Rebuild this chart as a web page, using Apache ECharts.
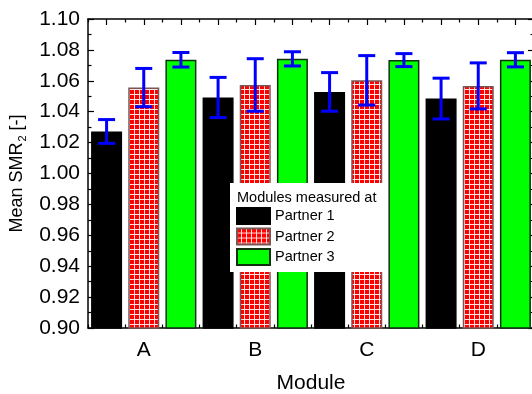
<!DOCTYPE html>
<html>
<head>
<meta charset="utf-8">
<script src="https://cdn.jsdelivr.net/npm/echarts@6/dist/echarts.min.js"></script>
<style>
  html, body { margin: 0; padding: 0; background: #fff; }
  #chart { width: 532px; height: 394px; }
</style>
</head>
<body>
<div id="chart"></div>
<script>
// Mean SMR2 per module, grouped by the partner lab that measured it
const modules = ['A', 'B', 'C', 'D'];
const partners = ['Partner 1', 'Partner 2', 'Partner 3'];
const meanP1 = [1.0272, 1.0492, 1.0528, 1.0485];
const errP1  = [0.0077, 0.0130, 0.0125, 0.0132];
const meanP2 = [1.0556, 1.0573, 1.0603, 1.0567];
const errP2  = [0.0124, 0.0170, 0.0160, 0.0149];
const meanP3 = [1.0736, 1.0742, 1.0734, 1.0736];
const errP3  = [0.0047, 0.0046, 0.0042, 0.0046];
const yMin = 0.90, yMax = 1.10, yStep = 0.02;

const means = [meanP1, meanP2, meanP3];
const errs = [errP1, errP2, errP3];
const FONT = "'Liberation Sans', Arial, Helvetica, sans-serif";

// one slot per bar: module-major, partner-minor
const slots = [];
modules.forEach(m => partners.forEach((p, j) => slots.push(m + '|' + j)));

// red fill with a fine white grid
const cv = document.createElement('canvas');
cv.width = 5; cv.height = 5;
const cx = cv.getContext('2d');
cx.fillStyle = '#ff0000'; cx.fillRect(0, 0, 5, 5);
cx.fillStyle = '#ffe2e2'; cx.fillRect(4, 0, 1, 5); cx.fillRect(0, 4, 5, 1);
const gridPattern = { image: cv, repeat: 'repeat' };

const barStyles = [
  { color: '#000000', borderColor: '#000000', borderWidth: 1.5 },
  { color: gridPattern, borderColor: '#7a5555', borderWidth: 1.5 },
  { color: '#00ff00', borderColor: '#103010', borderWidth: 1.5 }
];

const barSeries = partners.map((name, j) => ({
  name,
  type: 'bar',
  xAxisIndex: 0,
  yAxisIndex: 0,
  barWidth: 31,
  barGap: '-100%',
  itemStyle: barStyles[j],
  data: slots.map((s, i) => (i % 3 === j ? means[j][Math.floor(i / 3)] : '-'))
}));

const errData = [];
modules.forEach((m, k) => partners.forEach((p, j) => {
  errData.push([k * 3 + j, means[j][k], errs[j][k]]);
}));

const errStroke = { stroke: '#0000ff', lineWidth: 3 };
const errSeries = {
  type: 'custom',
  name: 'error',
  xAxisIndex: 0,
  yAxisIndex: 0,
  z: 5,
  encode: { x: 0, y: 1 },
  data: errData,
  renderItem: (params, api) => {
    const x = api.value(0), m = api.value(1), e = api.value(2);
    const hi = api.coord([x, m + e]);
    const lo = api.coord([x, m - e]);
    const hw = 8.5;
    return {
      type: 'group',
      children: [
        { type: 'line', shape: { x1: hi[0], y1: hi[1], x2: lo[0], y2: lo[1] }, style: errStroke },
        { type: 'line', shape: { x1: hi[0] - hw, y1: hi[1], x2: hi[0] + hw, y2: hi[1] }, style: errStroke },
        { type: 'line', shape: { x1: lo[0] - hw, y1: lo[1], x2: lo[0] + hw, y2: lo[1] }, style: errStroke }
      ]
    };
  }
};

const axisLine = { show: true, lineStyle: { color: '#000', width: 1.5 } };
const tickStyle = { color: '#000', width: 1.2 };

function catAxis(position, major, extra) {
  return Object.assign({
    type: 'category',
    position,
    data: slots,
    boundaryGap: true,
    axisLine: major ? axisLine : { show: false },
    axisTick: { show: true, inside: true, interval: 0, alignWithLabel: major, length: major ? 6 : 3.5, lineStyle: tickStyle },
    axisLabel: { show: false },
    splitLine: { show: false }
  }, extra || {});
}

const xAxes = [
  catAxis('bottom', true, {
    name: 'Module',
    nameLocation: 'middle',
    nameGap: 45,
    nameTextStyle: { fontFamily: FONT, fontSize: 21, color: '#000' },
    axisLabel: {
      show: true, interval: 0, margin: 12,
      fontFamily: FONT, fontSize: 21, color: '#000',
      formatter: (v, i) => (i % 3 === 1 ? modules[(i - 1) / 3] : '')
    }
  }),
  catAxis('bottom', false),
  catAxis('top', true),
  catAxis('top', false)
];

function valAxis(position, main) {
  return {
    type: 'value',
    position,
    min: yMin, max: yMax, interval: yStep,
    axisLine,
    axisTick: { show: true, inside: true, length: 6, lineStyle: tickStyle },
    minorTick: { show: true, splitNumber: 2, length: 3.5, lineStyle: tickStyle },
    splitLine: { show: false },
    minorSplitLine: { show: false },
    axisLabel: main ? {
      show: true, margin: 8, fontFamily: FONT, fontSize: 21, color: '#000',
      formatter: v => v.toFixed(2)
    } : { show: false },
    name: main ? 'Mean SMR{sub|2} [-]' : '',
    nameLocation: 'middle',
    nameGap: 56,
    nameRotate: 90,
    nameTextStyle: {
      fontFamily: FONT, fontSize: 18, color: '#000',
      rich: { sub: { fontFamily: FONT, fontSize: 11, color: '#000', padding: [11, 0, 0, 1] } }
    }
  };
}

const chart = echarts.init(document.getElementById('chart'), null, { renderer: 'canvas' });
chart.setOption({
  animation: false,
  backgroundColor: '#fff',
  textStyle: { fontFamily: FONT },
  grid: { left: 88, top: 19, width: 446, height: 309, containLabel: false, outerBoundsMode: 'none' },
  xAxis: xAxes,
  yAxis: [valAxis('left', true), valAxis('right', false)],
  legend: {
    data: partners,
    orient: 'vertical',
    left: 230,
    top: 183,
    z: 20,
    backgroundColor: '#fff',
    padding: [24, 50, 6, 6],
    itemWidth: 33,
    itemHeight: 16,
    itemGap: 2.5,
    icon: 'rect',
    selectedMode: false,
    textStyle: { fontFamily: FONT, fontSize: 14.5, color: '#000' }
  },
  graphic: [{
    type: 'text',
    left: 237,
    top: 190,
    z: 30,
    style: { text: 'Modules measured at', fontFamily: FONT, fontSize: 14.5, fill: '#000' }
  }],
  series: barSeries.concat([errSeries])
});
</script>
</body>
</html>
